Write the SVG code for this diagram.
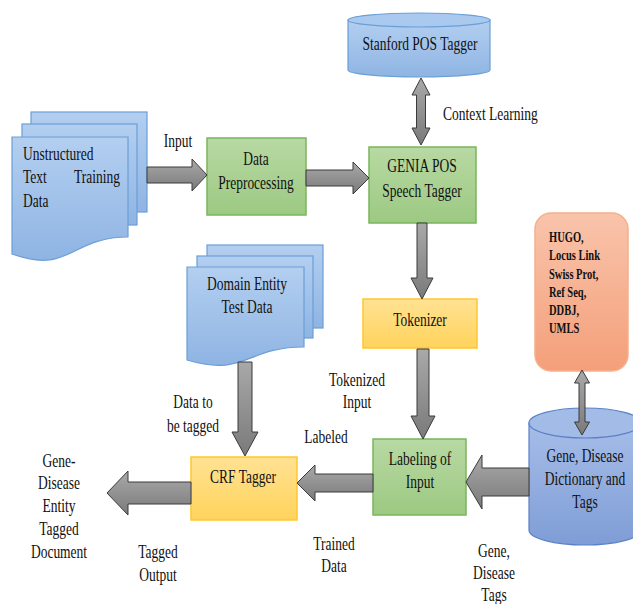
<svg xmlns="http://www.w3.org/2000/svg" width="633" height="604" viewBox="0 0 633 604">
<defs>
<linearGradient id="gBlue" x1="0" y1="0" x2="0" y2="1"><stop offset="0" stop-color="#b3cff0"/><stop offset="1" stop-color="#8fb4e3"/></linearGradient>
<linearGradient id="gDict" x1="0" y1="0" x2="0" y2="1"><stop offset="0" stop-color="#a6bde8"/><stop offset="1" stop-color="#7f9dd6"/></linearGradient>
<linearGradient id="gGreen" x1="0" y1="0" x2="0" y2="1"><stop offset="0" stop-color="#b8d9a3"/><stop offset="1" stop-color="#9cc982"/></linearGradient>
<linearGradient id="gYellow" x1="0" y1="0" x2="0" y2="1"><stop offset="0" stop-color="#ffe293"/><stop offset="1" stop-color="#ffd35c"/></linearGradient>
<linearGradient id="gOrange" x1="0" y1="0" x2="0" y2="1"><stop offset="0" stop-color="#f9c4ab"/><stop offset="1" stop-color="#f49f7a"/></linearGradient>
<linearGradient id="gArrow" x1="0" y1="0" x2="0" y2="1"><stop offset="0" stop-color="#a9a9a9"/><stop offset="1" stop-color="#7a7a7a"/></linearGradient>
</defs>
<style>
.t{font-family:"Liberation Serif","Times New Roman",serif;font-size:18px;fill:#111111}
.c{text-anchor:middle}
.s{font-size:14px;font-weight:bold}
.doc{fill:url(#gBlue);stroke:#6a9fd8;stroke-width:1.2}
.green{fill:url(#gGreen);stroke:#7ab55c;stroke-width:1.5}
.yellow{fill:url(#gYellow);stroke:#ffc62e;stroke-width:1.5}
.arr{fill:url(#gArrow);stroke:#3b3b3b;stroke-width:1}
</style>

<g id="unstructured">
<rect class="doc" x="31" y="112" width="116" height="100"/>
<rect class="doc" x="22" y="124" width="115" height="101"/>
<path class="doc" d="M12,137 H128 V237 C70,237 70,275 12,254 Z"/>
<text class="t" transform="translate(23 160) scale(0.75 1)">Unstructured</text>
<text class="t" transform="translate(23 183) scale(0.75 1)">Text</text>
<text class="t" text-anchor="end" transform="translate(120 183) scale(0.75 1)">Training</text>
<text class="t" transform="translate(23 207) scale(0.75 1)">Data</text>
</g>

<g id="preprocessing">
<rect class="green" x="207" y="138" width="99" height="77"/>
<text class="t c" transform="translate(256 165) scale(0.75 1)">Data</text>
<text class="t c" transform="translate(256 189) scale(0.75 1)">Preprocessing</text>
</g>

<g id="stanford">
<path d="M348,20 V70 A71,7 0 0 0 490,70 V20 Z" fill="url(#gBlue)" stroke="#6a9fd8" stroke-width="1.2"/>
<ellipse cx="419" cy="20" rx="71" ry="7" fill="#aac9ee" stroke="#6a9fd8" stroke-width="1.2"/>
<text class="t c" transform="translate(420 50) scale(0.75 1)">Stanford POS Tagger</text>
</g>

<g id="genia">
<rect class="green" x="369" y="147" width="107" height="76"/>
<text class="t c" transform="translate(422 172) scale(0.75 1)">GENIA POS</text>
<text class="t c" transform="translate(422 197) scale(0.75 1)">Speech Tagger</text>
</g>

<g id="tokenizer">
<rect class="yellow" x="363" y="299" width="114" height="49"/>
<text class="t c" transform="translate(420 326) scale(0.75 1)">Tokenizer</text>
</g>

<g id="databases">
<rect x="535" y="213" width="93" height="158" rx="16" ry="16" fill="url(#gOrange)" stroke="#f5b08c" stroke-width="1.5"/>
<text class="t s" transform="translate(549 242) scale(0.75 1)">HUGO,</text>
<text class="t s" transform="translate(549 260) scale(0.75 1)">Locus Link</text>
<text class="t s" transform="translate(549 279) scale(0.75 1)">Swiss Prot,</text>
<text class="t s" transform="translate(549 297) scale(0.75 1)">Ref Seq,</text>
<text class="t s" transform="translate(549 315) scale(0.75 1)">DDBJ,</text>
<text class="t s" transform="translate(549 333) scale(0.75 1)">UMLS</text>
</g>

<g id="domain">
<rect class="doc" x="207" y="245" width="116" height="83"/>
<rect class="doc" x="197" y="256" width="116" height="82"/>
<path class="doc" d="M187,267 H304 V347 C245.5,347 245.5,377.5 187,360 Z"/>
<text class="t c" transform="translate(247 290) scale(0.75 1)">Domain Entity</text>
<text class="t c" transform="translate(247 313) scale(0.75 1)">Test Data</text>
</g>

<g id="dictionary">
<path d="M529,423 V530 A56,15 0 0 0 641,530 V423 Z" fill="url(#gDict)" stroke="#5a80c8" stroke-width="1.2"/>
<ellipse cx="585" cy="423" rx="56" ry="15" fill="#a3bbe7" stroke="#5a80c8" stroke-width="1.2"/>
<text class="t c" transform="translate(585 462) scale(0.75 1)">Gene, Disease</text>
<text class="t c" transform="translate(585 485) scale(0.75 1)">Dictionary and</text>
<text class="t c" transform="translate(585 508) scale(0.75 1)">Tags</text>
</g>

<g id="labeling">
<rect class="green" x="373" y="439" width="93" height="76"/>
<text class="t c" transform="translate(420 465) scale(0.75 1)">Labeling of</text>
<text class="t c" transform="translate(420 488) scale(0.75 1)">Input</text>
</g>

<g id="crf">
<rect class="yellow" x="191" y="457" width="106" height="63"/>
<text class="t c" transform="translate(243 483) scale(0.75 1)">CRF Tagger</text>
</g>

<g id="output">
<text class="t c" transform="translate(59 467) scale(0.75 1)">Gene-</text>
<text class="t c" transform="translate(59 489) scale(0.75 1)">Disease</text>
<text class="t c" transform="translate(59 512) scale(0.75 1)">Entity</text>
<text class="t c" transform="translate(59 535) scale(0.75 1)">Tagged</text>
<text class="t c" transform="translate(59 558) scale(0.75 1)">Document</text>
</g>

<g id="connectors">
<polygon class="arr" points="147,167 192,167 192,159 207,175 192,191 192,183 147,183"/>
<polygon class="arr" points="306,170 353,170 353,162 369,178 353,194 353,186 306,186"/>
<polygon class="arr" points="421,78 430,95 425.5,95 425.5,128 430,128 421,145 412,128 416.5,128 416.5,95 412,95"/>
<polygon class="arr" points="417,223 427,223 427,278 433,278 422,299 411,278 417,278"/>
<polygon class="arr" points="417,349 429,349 429,416 435,416 423,439 411,416 417,416"/>
<polygon class="arr" points="582,370 589.5,383 585,383 585,422 589.5,422 582,435 574.5,422 579,422 579,383 574.5,383"/>
<polygon class="arr" points="238,362 252,362 252,432 258,432 245,456 232,432 238,432"/>
<polygon class="arr" points="529,468 482,468 482,455 466,482 482,509 482,496 529,496"/>
<polygon class="arr" points="373,474 315,474 315,465 297,483 315,501 315,492 373,492"/>
<polygon class="arr" points="191,482 128,482 128,471 107,493 128,515 128,504 191,504"/>
<text class="t c" transform="translate(178 147) scale(0.75 1)">Input</text>
<text class="t" transform="translate(443 120) scale(0.75 1)">Context Learning</text>
<text class="t c" transform="translate(357 386) scale(0.75 1)">Tokenized</text>
<text class="t c" transform="translate(357 408) scale(0.75 1)">Input</text>
<text class="t c" transform="translate(193 408) scale(0.75 1)">Data to</text>
<text class="t c" transform="translate(193 432) scale(0.75 1)">be tagged</text>
<text class="t c" transform="translate(326 443) scale(0.75 1)">Labeled</text>
<text class="t c" transform="translate(334 550) scale(0.75 1)">Trained</text>
<text class="t c" transform="translate(334 572) scale(0.75 1)">Data</text>
<text class="t c" transform="translate(494 557) scale(0.75 1)">Gene,</text>
<text class="t c" transform="translate(494 579) scale(0.75 1)">Disease</text>
<text class="t c" transform="translate(494 601) scale(0.75 1)">Tags</text>
<text class="t c" transform="translate(158 558) scale(0.75 1)">Tagged</text>
<text class="t c" transform="translate(158 581) scale(0.75 1)">Output</text>
</g>
</svg>
